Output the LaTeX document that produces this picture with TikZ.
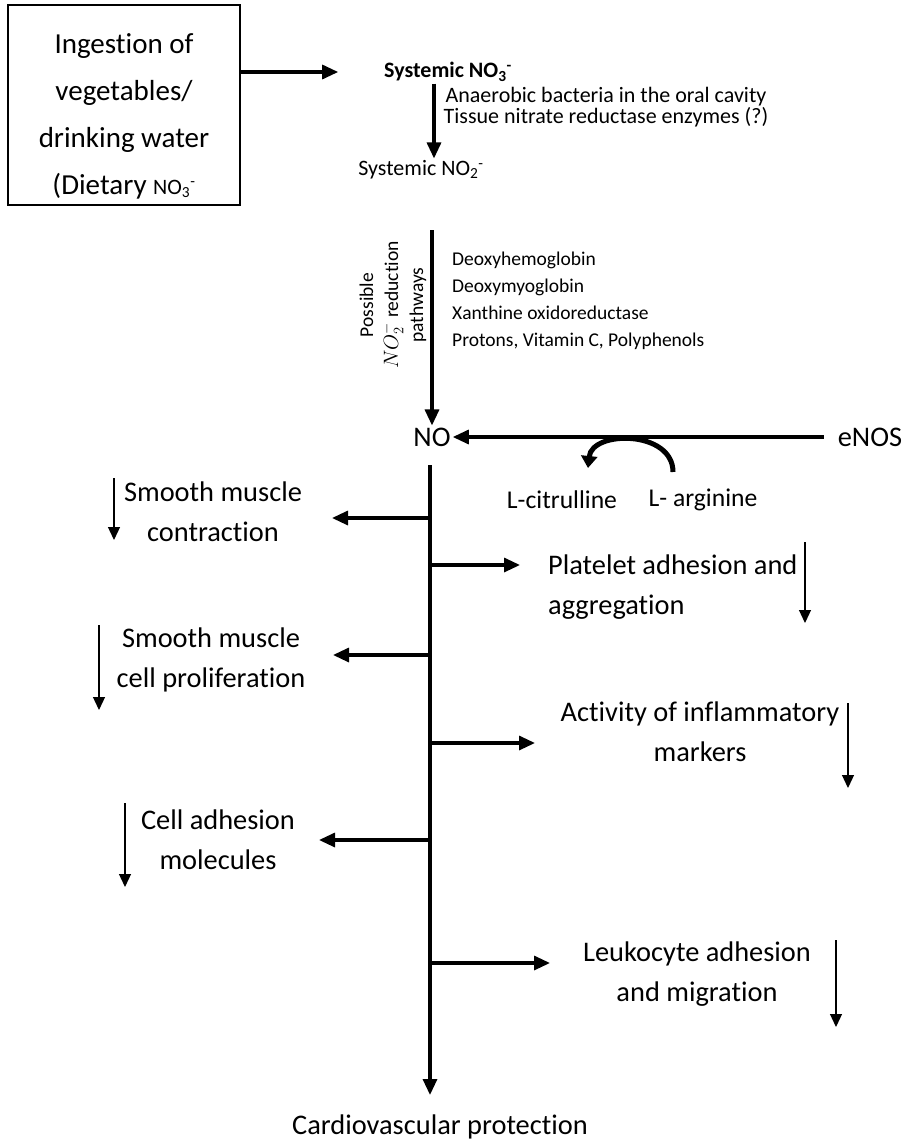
\documentclass[tikz,border=0pt]{standalone}
\usepackage{fontspec}
\setmainfont{Carlito}[Ligatures=NoCommon]
\usetikzlibrary{arrows.meta}

\tikzset{
  bigtxt/.style={font=\fontsize{28.4}{40}\selectfont, inner sep=2pt},
  medtxt/.style={font=\fontsize{22}{21.5}\selectfont, inner sep=2pt},
  smalltxt/.style={font=\fontsize{19.5}{27}\selectfont, inner sep=2pt},
  arr/.style={line width=3.2pt, -{Triangle[length=16pt,width=14pt]}},
  thinarr/.style={line width=1.2pt, -{Triangle[length=13pt,width=12pt]}},
  arcarr/.style={line width=5pt, -{Triangle[length=12pt,width=16pt]}}
}

\begin{document}
\begin{tikzpicture}[x=1pt,y=-1pt]
    \useasboundingbox (0,0) rectangle (917,1144);

    % Dietary source box
    \node[draw, line width=2.4pt, minimum width=232pt, minimum height=200pt] (dietbox) at (124,105) {};
    \node[bigtxt, font=\fontsize{29}{47}\selectfont, align=center] (diet) at (124,116)
        {Ingestion of\\vegetables/\\drinking water\\(Dietary {\fontsize{22}{22}\selectfont NO\textsubscript{3}\textsuperscript{-}}};

    % Nitrate and nitrite
    \node[medtxt, font=\fontsize{22}{21}\selectfont\bfseries] (sys3) at (448,72) {Systemic NO\textsubscript{3}\textsuperscript{-}};
    \node[medtxt] (sys2) at (421,170) {Systemic NO\textsubscript{2}\textsuperscript{-}};
    \node[medtxt, align=center] (bact) at (606,107)
        {Anaerobic bacteria in the oral cavity\\Tissue nitrate reductase enzymes (?)};

    \draw[arr] (dietbox.east |- sys3) -- ++(97,0);
    \draw[arr] (sys3.south -| 434,0) -- (sys2.north -| 434,0);

    % Reduction of nitrite to NO
    \node[bigtxt] (NO) at (432,437) {NO};
    \node[bigtxt] (eNOS) at (870,437) {eNOS};
    \node[smalltxt, align=left, anchor=west] (red) at (450,301)
        {Deoxyhemoglobin\\Deoxymyoglobin\\Xanthine oxidoreductase\\Protons, Vitamin C, Polyphenols};
    \node[smalltxt, font=\fontsize{19.5}{25}\selectfont, rotate=90, align=center] (path) at (393,305)
        {Possible\\$NO_2^-$ reduction\\pathways};

    \draw[arr] (NO.north |- 0,230) -- (NO.north);
    \draw[arr, shorten <=12pt] (eNOS.west) -- (NO.east);

    % L-arginine to L-citrulline
    \node[bigtxt, font=\fontsize{25.6}{30}\selectfont] (citr) at (562,500) {L-citrulline};
    \node[bigtxt, font=\fontsize{25.6}{30}\selectfont] (argn) at (703,500) {L- arginine};
    \coordinate (argtop) at (673,472);
    \coordinate (citrtop) at (588,468);
    \draw[arcarr] (argtop) .. controls (673,430) and (592,430) .. (citrtop);

    % Main stem
    \node[bigtxt] (cvp) at (440,1127) {Cardiovascular protection};
    \coordinate (top) at (430,465);
    \coordinate (bot) at (430,1095);
    \draw[arr] (top) -- (bot);

    % Left effects
    \node[bigtxt, align=center] (smc) at (213,512) {Smooth muscle\\contraction};
    \draw[arr] (430,518) -- (332,518);
    \draw[thinarr] (114,478) -- (114,540);

    \node[bigtxt, align=center] (smp) at (211,660) {Smooth muscle\\cell proliferation};
    \draw[arr] (430,655) -- (333,655);
    \draw[thinarr] (99,625) -- (99,710);

    \node[bigtxt, align=center] (cam) at (218,840) {Cell adhesion\\molecules};
    \draw[arr] (430,840) -- (319,840);
    \draw[thinarr] (125,803) -- (125,887);

    % Right effects
    \node[bigtxt, align=left, anchor=west] (pla) at (546,587) {Platelet adhesion and\\aggregation};
    \draw[arr] (430,565) -- (520,565);
    \draw[thinarr] (805,542) -- (805,623);

    \node[bigtxt, align=center] (inf) at (700,732) {Activity of inflammatory\\markers};
    \draw[arr] (430,743) -- (535,743);
    \draw[thinarr] (848,703) -- (848,788);

    \node[bigtxt, align=center] (leu) at (697,974) {Leukocyte adhesion\\and migration};
    \draw[arr] (430,963) -- (550,963);
    \draw[thinarr] (836,940) -- (836,1027);
\end{tikzpicture}
\end{document}
